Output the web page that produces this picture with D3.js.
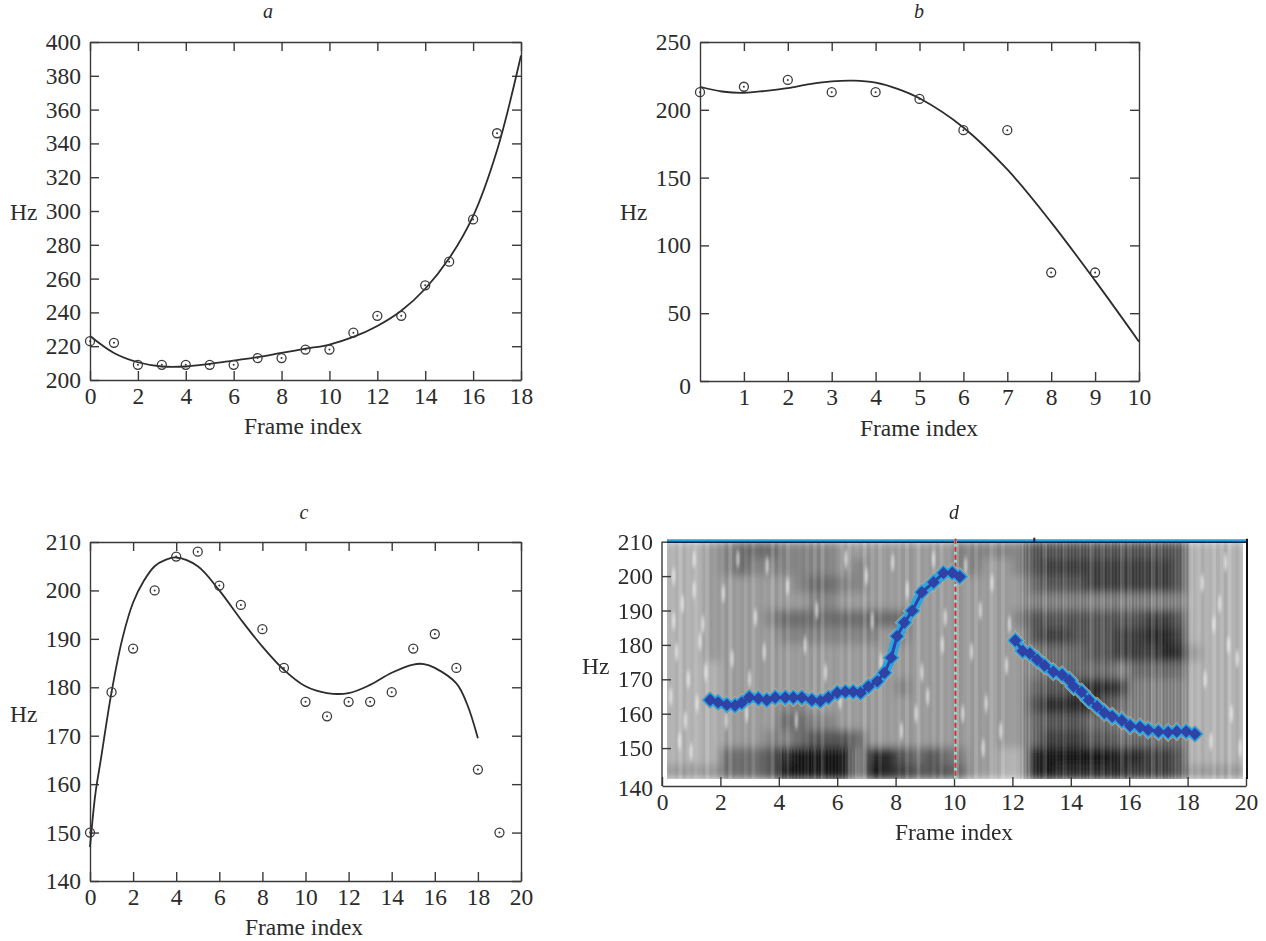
<!DOCTYPE html>
<html>
<head>
<meta charset="utf-8">
<script src="https://cdn.jsdelivr.net/npm/d3@7.9.0/dist/d3.min.js"></script>
<style>
  html, body { margin: 0; background: #fff; }
  svg { display: block; }
  text { font-family: "Liberation Serif", serif; font-size: 23.5px; fill: #2b2b2b; }
  .title { font-style: italic; font-size: 20px; }
  .axis path, .axis line { stroke: #3a3a3a; stroke-width: 1.4; }
  .axis text { font-family: "Liberation Serif", serif; font-size: 23.5px; fill: #2b2b2b; }
</style>
</head>
<body>
<svg id="chart" width="1266" height="941"></svg>
<script>
// panel a
const aFrames = [0, 1, 2, 3, 4, 5, 6, 7, 8, 9, 10, 11, 12, 13, 14, 15, 16, 17];
const aPitch = [223, 222, 209, 209, 209, 209, 209, 213, 213, 218, 218, 228, 238, 238, 256, 270, 295, 346];
const aFitX = [0, 1, 2, 3, 4, 5, 6, 7, 8, 9, 10, 11, 12, 13, 14, 15, 16, 17, 18];
const aFitY = [226, 216, 210.5, 208, 208, 209.5, 211.5, 213.5, 216, 218.5, 221, 225.5, 232, 241, 254, 272, 297, 336, 392];
const aTicksX = [0, 2, 4, 6, 8, 10, 12, 14, 16, 18];
const aTicksY = [200, 220, 240, 260, 280, 300, 320, 340, 360, 380, 400];

// panel b
const bFrames = [0, 1, 2, 3, 4, 5, 6, 7, 8, 9];
const bPitch = [213, 217, 222, 213, 213, 208, 185, 185, 80, 80];
const bFitX = [0, 0.5, 1, 1.5, 2, 2.5, 3, 3.5, 4, 4.5, 5, 6, 7, 8, 9, 10];
const bFitY = [217, 213.5, 212.5, 214, 216, 219, 221, 221.5, 220, 215.5, 208.5, 187, 156, 117, 74, 29];
const bTicksX = [1, 2, 3, 4, 5, 6, 7, 8, 9, 10];
const bTicksY = [0, 50, 100, 150, 200, 250];

// panel c
const cFrames = [0, 1, 2, 3, 4, 5, 6, 7, 8, 9, 10, 11, 12, 13, 14, 15, 16, 17, 18, 19];
const cPitch = [150, 179, 188, 200, 207, 208, 201, 197, 192, 184, 177, 174, 177, 177, 179, 188, 191, 184, 163, 150];
const cFitX = [0, 0.25, 0.5, 1, 1.5, 2, 2.5, 3, 3.5, 4, 5, 6, 7, 8, 9, 10, 11, 12, 13, 14, 15, 15.5, 16, 17, 17.5, 18];
const cFitY = [147, 158, 165, 179, 190, 197.5, 202, 205, 206.3, 206.8, 205, 200, 194, 188.4, 183.6, 180.2, 178.8, 178.8, 180.5, 183, 184.7, 184.8, 184, 180.8, 176.5, 169.5];
const cTicksX = [0, 2, 4, 6, 8, 10, 12, 14, 16, 18, 20];
const cTicksY = [140, 150, 160, 170, 180, 190, 200, 210];

// panel d: pitch track over spectrogram
const dTrack1X = [1.65, 1.92, 2.22, 2.5, 2.73, 2.99, 3.3, 3.59, 3.88, 4.22, 4.5, 4.79, 5.13, 5.42, 5.7, 6.0, 6.28, 6.55, 6.8, 7.07, 7.37, 7.62, 7.85, 8.05, 8.3, 8.57, 8.9, 9.3, 9.64, 9.94, 10.2];
const dTrack1Y = [164, 163.3, 162.6, 162.4, 163.2, 164.8, 164.4, 164, 164.7, 164.7, 164.7, 164.7, 164, 163.7, 164.7, 166.1, 166.4, 166.4, 166.1, 167.9, 169.4, 171.9, 176.3, 182.5, 186.5, 189.9, 195.3, 198.2, 200.9, 201, 199.8];
const dTrack2X = [12.1, 12.35, 12.6, 12.85, 13.1, 13.4, 13.7, 13.95, 14.1, 14.37, 14.62, 14.9, 15.15, 15.42, 15.75, 16.03, 16.37, 16.65, 17, 17.33, 17.63, 17.95, 18.25];
const dTrack2Y = [181.3, 178.2, 177.5, 175.7, 174, 172.2, 171.3, 169.7, 167.9, 166.3, 164, 162.1, 160.3, 159.2, 158, 156.5, 156.1, 155.3, 154.8, 154.6, 154.8, 154.8, 154.1];
const dTicksX = [0, 2, 4, 6, 8, 10, 12, 14, 16, 18, 20];
const dTicksY = [140, 150, 160, 170, 180, 190, 200, 210];
const dMarkerFrame = 10.05;

// spectrogram darkness, 0 light to 9 black; one group per frame, two half frames each
const specEdgesHz = [210, 205, 200, 195, 190, 185, 180, 175, 170, 165, 160, 155, 150, 145, 141];
const specRows = [
  '22 23 45 55 44 44 33 33 33 33 44 44 46 66 66 66 66 66 22 22',
  '22 23 45 44 44 44 34 33 33 33 44 33 46 77 77 77 77 76 22 22',
  '22 23 33 33 34 55 44 33 33 33 33 33 35 66 67 77 77 76 22 22',
  '22 23 33 33 33 44 33 33 33 33 33 33 34 44 44 44 44 44 22 22',
  '22 23 33 34 55 55 55 55 53 33 33 33 46 66 66 66 67 76 22 22',
  '22 23 33 33 44 44 44 43 43 33 33 33 36 77 66 67 78 87 22 22',
  '22 23 33 33 33 33 33 33 33 33 33 33 34 55 56 67 77 88 32 22',
  '22 22 33 33 33 33 33 33 33 33 33 33 34 55 55 54 55 55 22 22',
  '22 22 33 33 33 33 33 33 43 33 33 33 35 66 78 87 44 44 22 22',
  '22 22 33 33 44 33 33 33 33 33 33 33 36 88 88 65 44 44 22 22',
  '22 22 33 33 55 44 33 33 33 33 33 33 35 66 65 54 44 44 22 22',
  '22 22 33 34 45 66 65 33 33 33 33 33 35 77 76 65 55 55 22 22',
  '22 22 55 56 89 99 94 88 65 65 43 32 28 99 99 98 87 76 22 22',
  '33 33 55 56 99 99 94 98 76 66 53 32 28 98 88 88 77 76 33 33'
];
// light and dark vertical streaks across the spectrogram, 4 = neutral
const specStreaks = '647284635827463916473825746193825647382916475382647193825746382951647382647195382746138265473926481753926473851642739518264739152846372915384627391584';
// bright flecks in the unvoiced parts
const fleckFrames = [0.4, 0.7, 1.1, 1.4, 0.5, 0.9, 1.3, 0.3, 0.8, 1.2, 0.6, 1.0, 1.5, 0.4, 1.1, 2.1, 2.6, 3.2, 2.4, 3.0, 3.5, 2.2, 2.9, 3.6, 4.3, 4.9, 5.6, 6.3, 4.6, 5.3, 6.1, 7.0, 7.5, 7.2, 7.9, 8.4, 8.9, 9.3, 8.7, 9.6, 8.2, 9.1, 9.7, 10.4, 10.9, 11.3, 11.8, 10.6, 11.1, 11.6, 10.3, 11.0, 11.9, 18.5, 18.9, 19.3, 19.7, 18.6, 19.1, 19.5, 18.8, 19.4, 19.8];
const fleckHz = [200, 192, 205, 186, 178, 170, 181, 165, 158, 163, 152, 149, 172, 187, 196, 195, 205, 188, 176, 170, 178, 158, 160, 203, 197, 180, 172, 205, 158, 190, 164, 200, 175, 187, 204, 196, 172, 205, 160, 180, 155, 165, 188, 203, 190, 198, 174, 178, 163, 155, 160, 150, 186, 198, 186, 204, 176, 170, 192, 160, 152, 180, 150];

const svg = d3.select('#chart');

const panels = [
  { title: 'a', box: [90, 521, 42, 380], domX: [0, 18], domY: [200, 400], ticksX: aTicksX, ticksY: aTicksY,
    px: aFrames, py: aPitch, fx: aFitX, fy: aFitY, hz: [10, 212], xlab: [303, 427], titleAt: [268, 12] },
  { title: 'b', box: [700, 1139, 42, 381], domX: [0, 10], domY: [0, 250], ticksX: bTicksX, ticksY: bTicksY,
    px: bFrames, py: bPitch, fx: bFitX, fy: bFitY, hz: [620, 212], xlab: [919, 429], titleAt: [919, 12] },
  { title: 'c', box: [90, 521, 542, 881], domX: [0, 20], domY: [140, 210], ticksX: cTicksX, ticksY: cTicksY,
    px: cFrames, py: cPitch, fx: cFitX, fy: cFitY, hz: [10, 714], xlab: [304, 928], titleAt: [304, 513] }
];

function drawAxes(g, x, y, box, ticksX, ticksY, mirror) {
  const [l, r, t, b] = box;
  g.append('g').attr('class', 'axis').attr('transform', `translate(0,${b})`)
    .call(d3.axisBottom(x).tickValues(ticksX).tickFormat(d3.format('d')).tickSizeInner(-9).tickSizeOuter(0).tickPadding(7));
  const left = g.append('g').attr('class', 'axis axis-y').attr('transform', `translate(${l},0)`)
    .call(d3.axisLeft(y).tickValues(ticksY).tickFormat(d3.format('d')).tickSizeInner(-9).tickSizeOuter(0).tickPadding(9));
  if (mirror) {
    g.append('g').attr('class', 'axis').attr('transform', `translate(0,${t})`)
      .call(d3.axisTop(x).tickValues(ticksX).tickFormat('').tickSizeInner(-9).tickSizeOuter(0));
    g.append('g').attr('class', 'axis').attr('transform', `translate(${r},0)`)
      .call(d3.axisRight(y).tickValues(ticksY).tickFormat('').tickSizeInner(-9).tickSizeOuter(0));
  }
  return left;
}

function addLabels(g, title, titleAt, hz, xlab) {
  g.append('text').attr('class', 'title').attr('x', titleAt[0]).attr('y', titleAt[1] + 6).attr('text-anchor', 'middle').text(title);
  g.append('text').attr('x', hz[0]).attr('y', hz[1] + 8).text('Hz');
  g.append('text').attr('x', xlab[0]).attr('y', xlab[1] + 7).attr('text-anchor', 'middle').text('Frame index');
}

panels.forEach((p) => {
  const g = svg.append('g');
  const x = d3.scaleLinear().domain(p.domX).range([p.box[0], p.box[1]]);
  const y = d3.scaleLinear().domain(p.domY).range([p.box[3], p.box[2]]);
  const left = drawAxes(g, x, y, p.box, p.ticksX, p.ticksY, true);
  if (p.title === 'b') {
    // 0 sits below the corner in the original
    left.selectAll('.tick text').filter((d) => d === 0).attr('dy', '0.55em');
  }
  addLabels(g, p.title, p.titleAt, p.hz, p.xlab);

  const line = d3.line().x((d) => x(d[0])).y((d) => y(d[1])).curve(d3.curveCatmullRom);
  g.append('path').datum(d3.zip(p.fx, p.fy))
    .attr('d', line).attr('fill', 'none').attr('stroke', '#2c2c2c').attr('stroke-width', 1.8);

  const pts = g.selectAll('.pt').data(d3.zip(p.px, p.py)).enter().append('g')
    .attr('class', 'pt').attr('transform', (d) => `translate(${x(d[0])},${y(d[1])})`);
  pts.append('circle').attr('r', 4.5).attr('fill', 'none').attr('stroke', '#3a3a3a').attr('stroke-width', 1.3);
  pts.append('circle').attr('r', 1).attr('fill', '#3a3a3a');
});

// panel d
(function () {
  const box = [662, 1246, 541.7, 786];
  const g = svg.append('g');
  const x = d3.scaleLinear().domain([0, 20]).range([box[0], box[1]]);
  const y = d3.scaleLinear().domain([140, 210]).range([782.5, box[2]]);
  const specLeft = 667, specRight = 1243, specBottom = y(141);

  const defs = svg.append('defs');
  defs.append('clipPath').attr('id', 'specClip').append('rect')
    .attr('x', specLeft).attr('y', y(210)).attr('width', specRight - specLeft).attr('height', specBottom - y(210));
  defs.append('filter').attr('id', 'specBlur').attr('x', '-5%').attr('y', '-5%').attr('width', '110%').attr('height', '110%')
    .append('feGaussianBlur').attr('stdDeviation', '4 4');
  defs.append('filter').attr('id', 'streakBlur').append('feGaussianBlur').attr('stdDeviation', '0.7 0');
  defs.append('filter').attr('id', 'fleckBlur').append('feGaussianBlur').attr('stdDeviation', '1 2.5');
  const hatch = defs.append('pattern').attr('id', 'hatch').attr('patternUnits', 'userSpaceOnUse').attr('width', 3.4).attr('height', 10);
  hatch.append('rect').attr('width', 1.5).attr('height', 10).attr('fill', '#000').attr('opacity', 0.1);
  hatch.append('rect').attr('x', 1.8).attr('width', 1.3).attr('height', 10).attr('fill', '#fff').attr('opacity', 0.08);

  const grey = d3.scaleLinear().domain([0, 9]).range([228, 18]);
  const cols = d3.scaleBand().domain(d3.range(40)).range([x(0), x(20)]);
  const cells = specRows.flatMap((row, r) => row.replace(/ /g, '').split('').map((c, i) => ({ r, i, v: +c })));

  const spec = g.append('g').attr('clip-path', 'url(#specClip)');
  spec.append('g').attr('filter', 'url(#specBlur)').selectAll('rect').data(cells).enter().append('rect')
    .attr('x', (d) => cols(d.i) - 0.5).attr('width', cols.bandwidth() + 1)
    .attr('y', (d) => y(specEdgesHz[d.r]) - 0.5)
    .attr('height', (d) => y(specEdgesHz[d.r + 1]) - y(specEdgesHz[d.r]) + 1)
    .attr('fill', (d) => { const v = Math.round(grey(d.v)); return `rgb(${v},${v},${v})`; });

  const streaks = specStreaks.split('').map(Number);
  const streakX = d3.scaleBand().domain(d3.range(streaks.length)).range([specLeft, specRight]);
  spec.append('g').attr('filter', 'url(#streakBlur)').selectAll('rect').data(streaks).enter().append('rect')
    .attr('x', (d, i) => streakX(i)).attr('width', streakX.bandwidth())
    .attr('y', y(210)).attr('height', specBottom - y(210))
    .attr('fill', (d) => d >= 4 ? '#000' : '#fff')
    .attr('opacity', (d) => d >= 4 ? (d - 4) * 0.012 : (4 - d) * 0.05);

  // fine harmonic hatching in the voiced part
  spec.append('rect').attr('x', x(12.2)).attr('width', x(18.05) - x(12.2))
    .attr('y', y(210)).attr('height', specBottom - y(210)).attr('fill', 'url(#hatch)');
  spec.append('rect').attr('x', x(4)).attr('width', x(6.7) - x(4))
    .attr('y', y(150)).attr('height', specBottom - y(150)).attr('fill', 'url(#hatch)');

  spec.append('g').attr('filter', 'url(#fleckBlur)').selectAll('ellipse').data(d3.zip(fleckFrames, fleckHz)).enter().append('ellipse')
    .attr('cx', (d) => x(d[0])).attr('cy', (d) => y(d[1]))
    .attr('rx', 1.6).attr('ry', 9).attr('fill', '#fff').attr('opacity', 0.6);

  const left = drawAxes(g, x, y, box, dTicksX, dTicksY, false);
  left.select('path').remove();
  left.append('line').attr('y1', box[2]).attr('y2', box[3]);
  left.selectAll('.tick').filter((d) => d === 140).select('line').remove();
  left.selectAll('.tick text').filter((d) => d === 140).attr('dy', '0.55em');

  // top bar, right edge
  g.append('line').attr('x1', specLeft).attr('x2', box[1]).attr('y1', y(210) - 1).attr('y2', y(210) - 1).attr('stroke', '#2f9fdc').attr('stroke-width', 3);
  g.append('line').attr('x1', specLeft).attr('x2', box[1]).attr('y1', y(210) + 0.5).attr('y2', y(210) + 0.5).attr('stroke', '#15233f').attr('stroke-width', 1.5);
  g.append('line').attr('x1', x(12.75)).attr('x2', x(12.75)).attr('y1', y(210) - 4).attr('y2', y(210) + 1).attr('stroke', '#15233f').attr('stroke-width', 2);
  g.append('line').attr('x1', box[1] + 1).attr('x2', box[1] + 1).attr('y1', y(210) - 3).attr('y2', specBottom).attr('stroke', '#111').attr('stroke-width', 2);

  // frame marker
  g.append('line').attr('x1', x(dMarkerFrame)).attr('x2', x(dMarkerFrame)).attr('y1', y(210) - 3).attr('y2', specBottom)
    .attr('stroke', '#9fd0cc').attr('stroke-width', 3);
  g.append('line').attr('x1', x(dMarkerFrame)).attr('x2', x(dMarkerFrame)).attr('y1', y(210) - 3).attr('y2', specBottom)
    .attr('stroke', '#d8262c').attr('stroke-width', 2).attr('stroke-dasharray', '5 3');

  const trackLine = d3.line().x((d) => x(d[0])).y((d) => y(d[1])).curve(d3.curveLinear);
  [d3.zip(dTrack1X, dTrack1Y), d3.zip(dTrack2X, dTrack2Y)].forEach((track) => {
    const layer = g.append('g');
    const place = (sel) => sel.attr('transform', (d) => `translate(${x(d[0])},${y(d[1])}) rotate(45)`);
    place(layer.selectAll('.halo').data(track).enter().append('rect').attr('class', 'halo'))
      .attr('x', -6.8).attr('y', -6.8).attr('width', 13.6).attr('height', 13.6).attr('fill', '#e2a878');
    layer.append('path').attr('d', trackLine(track)).attr('fill', 'none').attr('stroke', '#2ba6e0').attr('stroke-width', 10);
    place(layer.selectAll('.rim').data(track).enter().append('rect').attr('class', 'rim'))
      .attr('x', -6.2).attr('y', -6.2).attr('width', 12.4).attr('height', 12.4).attr('fill', '#2ba6e0');
    layer.append('path').attr('d', trackLine(track)).attr('fill', 'none').attr('stroke', '#2f43a6').attr('stroke-width', 3);
    place(layer.selectAll('.core').data(track).enter().append('rect').attr('class', 'core'))
      .attr('x', -4.4).attr('y', -4.4).attr('width', 8.8).attr('height', 8.8).attr('fill', '#2f43a6');
  });

  addLabels(g, 'd', [954, 513], [582, 666], [954, 833]);
})();
</script>
</body>
</html>
